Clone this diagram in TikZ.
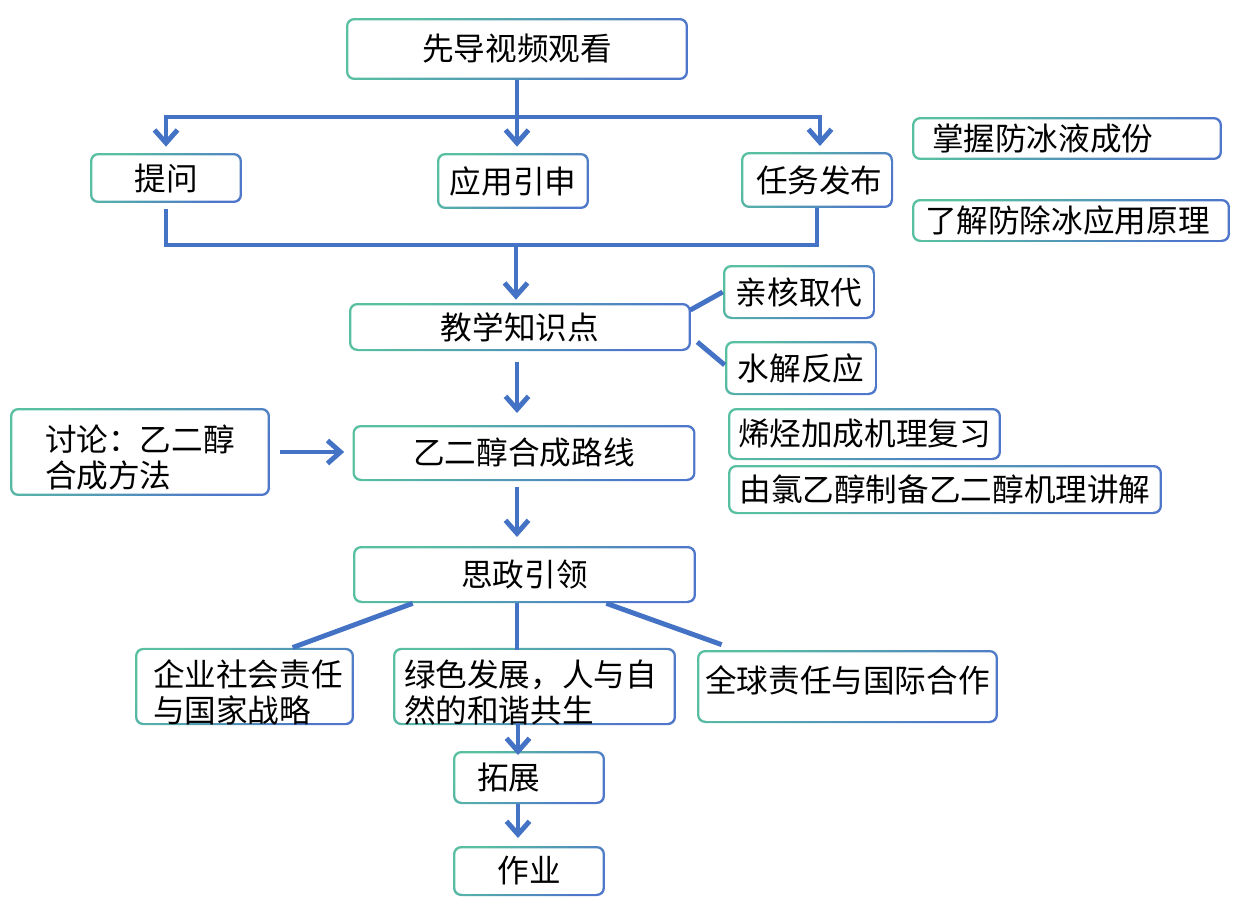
\documentclass[tikz,border=0pt]{standalone}
\usepackage{fontspec}
\newfontfamily\cjk{Noto Sans CJK SC}
\usetikzlibrary{arrows.meta}
\definecolor{boxgreen}{RGB}{88,192,160}
\definecolor{boxblue}{RGB}{78,118,202}
\definecolor{lineblue}{RGB}{68,114,196}
\tikzset{
	box/.style={rounded corners=0.16cm, top color=boxgreen, bottom color=boxblue, shading angle=45,
		inner sep=0pt, font=\cjk\fontsize{18}{20.5}\selectfont,
		path picture={\fill[white, rounded corners=0.13cm]
			([shift={(0.045cm,-0.045cm)}]path picture bounding box.north west) rectangle
			([shift={(-0.045cm,0.045cm)}]path picture bounding box.south east);}},
	lbox/.style={box, align=left, inner ysep=0pt},
	twoline/.style={lbox, text height=22pt},
	flow/.style={draw=lineblue, line width=2.8pt},
	arr/.style={flow, -{Straight Barb[length=2.6mm, width=4.6mm]}},
}
\begin{document}
\begin{tikzpicture}[x=0.02cm, y=-0.02cm]
		\useasboundingbox (0,0) rectangle (1243,916);
		% top row
		\node (guide) [box, minimum width=6.84cm, minimum height=1.24cm] at (517,49) {先导视频观看};
		\node (tiwen) [box, minimum width=3.04cm, minimum height=1.0cm] at (166,178) {提问};
		\node (yingyong) [box, minimum width=3.04cm, minimum height=1.12cm] at (513,181) {应用引申};
		\node (renwu) [lbox, text width=2.44cm, inner xsep=0.3cm, minimum height=1.12cm] at (817,180) {任务发布};
		\node (zhangwo) [lbox, text width=5.4cm, inner xsep=0.4cm, minimum height=0.86cm] at (1067,138.5) {掌握防冰液成份};
		\node (liaojie) [lbox, text width=5.84cm, inner xsep=0.26cm, minimum height=0.86cm] at (1071,220.5) {了解防除冰应用原理};
		% knowledge
		\node (zhishi) [box, minimum width=6.84cm, minimum height=0.96cm] at (520,327) {教学知识点};
		\node (qinhe) [box, minimum width=3.04cm, minimum height=1.08cm] at (799,292) {亲核取代};
		\node (shuijie) [box, minimum width=3.04cm, minimum height=1.08cm] at (801,368) {水解反应};
		% synthesis
		\node (taolun) [twoline, text width=3.8cm, inner xsep=0.7cm, minimum height=1.76cm] at (140,452) {讨论：乙二醇\\合成方法};
		\node (luxian) [box, minimum width=6.86cm, minimum height=1.12cm] at (524,453) {乙二醇合成路线};
		\node (xiting) [box, minimum width=5.46cm, minimum height=1.04cm] at (864.5,434) {烯烃加成机理复习};
		\node (lvyichun) [box, minimum width=8.68cm, minimum height=0.98cm] at (945,489.5) {由氯乙醇制备乙二醇机理讲解};
		% ideology
		\node (sizheng) [box, minimum width=6.86cm, minimum height=1.14cm] at (524.5,574.5) {思政引领};
		\node (qiye) [twoline, text width=3.66cm, inner xsep=0.36cm, minimum height=1.46cm] at (244.5,686.5) {企业社会责任\\与国家战略};
		\node (lvse) [twoline, text width=5.22cm, inner xsep=0.22cm, minimum height=1.46cm] at (534.5,686.5) {绿色发展，人与自\\然的和谐共生};
		\node (quanqiu) [box, minimum width=6.02cm, minimum height=1.46cm] at (847.5,686.5) {\raisebox{0.28cm}{全球责任与国际合作}};
		\node (tuozhan) [lbox, text width=2.08cm, inner xsep=0.48cm, minimum height=1.06cm] at (529,777.5) {拓展};
		\node (zuoye) [box, minimum width=3.04cm, minimum height=1.0cm] at (529,871) {作业};
		% connectors
		\coordinate (split) at (517,117);
		\coordinate (merge) at (516,245);
		\draw[flow] (guide.south) -- (split);
		\draw[arr, shorten >=0.12cm] (split) -| (tiwen.north);
		\draw[arr, shorten >=0.12cm] (split) -| (820,152);
		\draw[arr, shorten >=0.12cm] (split) -- (split |- yingyong.north);
		\draw[flow, shorten <=0.12cm] (tiwen.south) |- (merge) -| (renwu.south);
		\draw[arr, shorten >=0.06cm] (merge) -- (merge |- zhishi.north);
		\draw[flow] ([shift={(-0.02cm,0.34cm)}]zhishi.east) -- (qinhe.west);
		\draw[flow] ([shift={(0.12cm,-0.3cm)}]zhishi.east) -- ([yshift=0.06cm]shuijie.west);
		\draw[arr, shorten <=0.22cm, shorten >=0.24cm] (517,351) -- (517,425);
		\draw[arr, shorten <=0.2cm, shorten >=0.16cm] (taolun.east) -- (taolun.east -| luxian.west);
		\draw[arr, shorten <=0.12cm, shorten >=0.18cm] (517,481) -- (517,546);
		\draw[flow] ([xshift=1.2cm]sizheng.south west) -- ([xshift=3.16cm]qiye.north west);
		\draw[flow] (517,603) -- (517,650);
		\draw[flow] ([xshift=-1.8cm]sizheng.south east) -- ([shift={(0.5cm,0.1cm)}]quanqiu.north west);
		\draw[arr, shorten >=-0.08cm] (518,723) -- (518,751);
		\draw[arr, shorten >=0.16cm] (518,804) -- (518,846);
\end{tikzpicture}
\end{document}
